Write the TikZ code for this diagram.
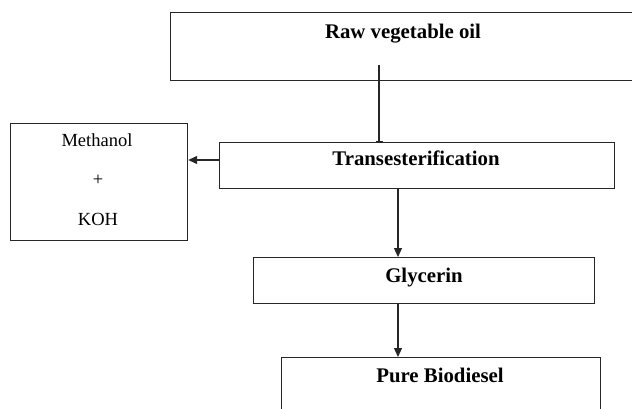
\documentclass[tikz,border=0pt]{standalone}
\usepackage{fontspec}
\setmainfont{Liberation Serif}
\usetikzlibrary{arrows.meta}
\begin{document}
\begin{tikzpicture}[x=1pt,y=-1pt,
  box/.style={draw=black!85,line width=1.2pt,rectangle,inner sep=0pt,anchor=north west},
  btxt/.style={font=\fontsize{20.8}{24}\selectfont\bfseries,inner sep=0pt,anchor=base},
  rtxt/.style={font=\fontsize{18.5}{22}\selectfont,inner sep=0pt,anchor=base},
  arr/.style={draw=black!85,line width=1.2pt,-{Triangle[length=9pt,width=8pt]}},
  tick/.style={draw=black!85,line width=1.2pt,-{Bar[width=7pt]}}]
\useasboundingbox (0,0) rectangle (632,408);
\clip (0,0) rectangle (632,408);
\fill[white] (0,0) rectangle (632,408);
% boxes
\node[box,minimum width=500pt,minimum height=68pt] (raw) at (170,12) {};
\node[box,minimum width=177pt,minimum height=117pt] (meth) at (10,123) {};
\node[box,minimum width=395pt,minimum height=46pt] (trans) at (219,142) {};
\node[box,minimum width=341pt,minimum height=46pt] (glyc) at (253,257) {};
\node[box,minimum width=319pt,minimum height=80pt] (bio) at (281,357) {};
% texts
\node[btxt] (rawt) at (403,38) {Raw vegetable oil};
\node[btxt] (transt) at (416,165) {Transesterification};
\node[btxt] (glyct) at (424,282) {Glycerin};
\node[btxt] (biot) at (440,382) {Pure Biodiesel};
\node[rtxt] (m1) at (97,146) {Methanol};
\node[rtxt] (m2) at (98,185) {+};
\node[rtxt] (m3) at (98,225) {KOH};
% connectors
\coordinate (rawin) at (379,65);
\draw[tick] (rawin) -- (trans.north -| rawin);
\draw[arr] (trans.west |- 0,160) -- (meth.east |- 0,160);
\coordinate (c1) at (398,0);
\draw[arr] (trans.south -| c1) -- (glyc.north -| c1);
\draw[arr] (glyc.south -| c1) -- (bio.north -| c1);
\end{tikzpicture}
\end{document}
